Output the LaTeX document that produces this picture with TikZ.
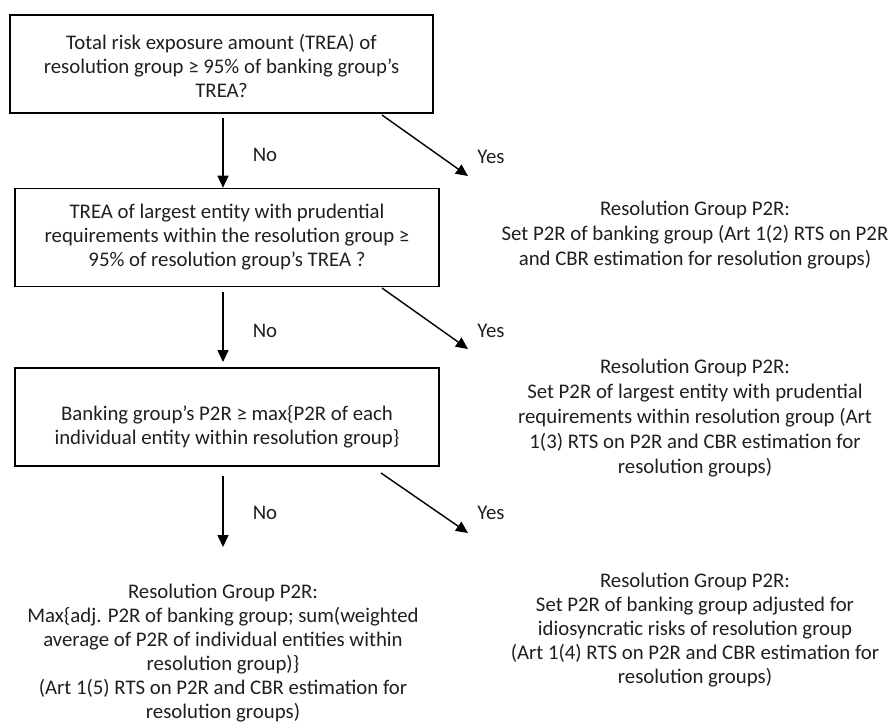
\documentclass[tikz,border=0pt]{standalone}
\usepackage{fontspec}
\setmainfont{Carlito}
\usetikzlibrary{arrows.meta}
\definecolor{ink}{gray}{0.12}
\begin{document}
\begin{tikzpicture}[x=1pt,y=-1pt,
  font=\fontsize{20.8}{24}\selectfont, text=ink,
  box/.style={draw=black, line width=1.6pt, minimum width=423.5pt, minimum height=98pt, align=center, inner sep=0pt},
  txt/.style={align=center, inner sep=0pt},
  wide/.style={font=\fontsize{20.8}{25}\selectfont},
  arr/.style={draw=black, line width=1.4pt, -{Triangle[length=12pt,width=11pt]}},
  lbl/.style={inner sep=0pt}]
\useasboundingbox (0,0) rectangle (893,725);

% decision boxes
\node[box] (box1) at (221.5,64) {\rule{0pt}{20pt}Total risk exposure amount (TREA) of\\resolution group ≥ 95\% of banking group’s\\TREA?};
\node[box] (box2) at (227,237.5) {TREA of largest entity with prudential\\requirements within the resolution group ≥\\95\% of resolution group’s TREA ?};
\node[box] (box3) at (227,417) {\rule{0pt}{35pt}Banking group’s P2R ≥ max\{P2R of each\\individual entity within resolution group\}};

% outcome texts
\node[txt, wide] (out1) at (695,235) {Resolution Group P2R:\\Set P2R of banking group (Art 1(2) RTS on P2R\\and CBR estimation for resolution groups)};
\node[txt, wide] (out2) at (695,418) {Resolution Group P2R:\\Set P2R of largest entity with prudential\\requirements within resolution group (Art\\1(3) RTS on P2R and CBR estimation for\\resolution groups)};
\node[txt] (out4) at (223,653) {Resolution Group P2R:\\Max\{adj. P2R of banking group; sum(weighted\\average of P2R of individual entities within\\resolution group)\}\\(Art 1(5) RTS on P2R and CBR estimation for\\resolution groups)};
\node[txt] (out3) at (695,630) {Resolution Group P2R:\\Set P2R of banking group adjusted for\\idiosyncratic risks of resolution group\\(Art 1(4) RTS on P2R and CBR estimation for\\resolution groups)};

% connector end points
\coordinate (n1s) at (223,118);
\coordinate (n2s) at (223,292);
\coordinate (n2e) at (223,362);
\coordinate (n3s) at (223,476);
\coordinate (n3e) at (223,547);
\coordinate (y1s) at (382,115);
\coordinate (y1e) at (468,176);
\coordinate (y2s) at (382,288);
\coordinate (y2e) at (468,349);
\coordinate (y3s) at (381,473);
\coordinate (y3e) at (468,533);

% No arrows
\draw[arr] (n1s) -- (n1s |- box2.north);
\draw[arr] (n2s) -- (n2e);
\draw[arr] (n3s) -- (n3e);
% Yes arrows
\draw[arr] (y1s) -- (y1e);
\draw[arr] (y2s) -- (y2e);
\draw[arr] (y3s) -- (y3e);

% labels
\node[lbl] (no1) at (265,155) {No};
\node[lbl] (no2) at (265,331) {No};
\node[lbl] (no3) at (265,513) {No};
\node[lbl] (yes1) at (491,157) {Yes};
\node[lbl] (yes2) at (491,331) {Yes};
\node[lbl] (yes3) at (491,513) {Yes};
\end{tikzpicture}
\end{document}
